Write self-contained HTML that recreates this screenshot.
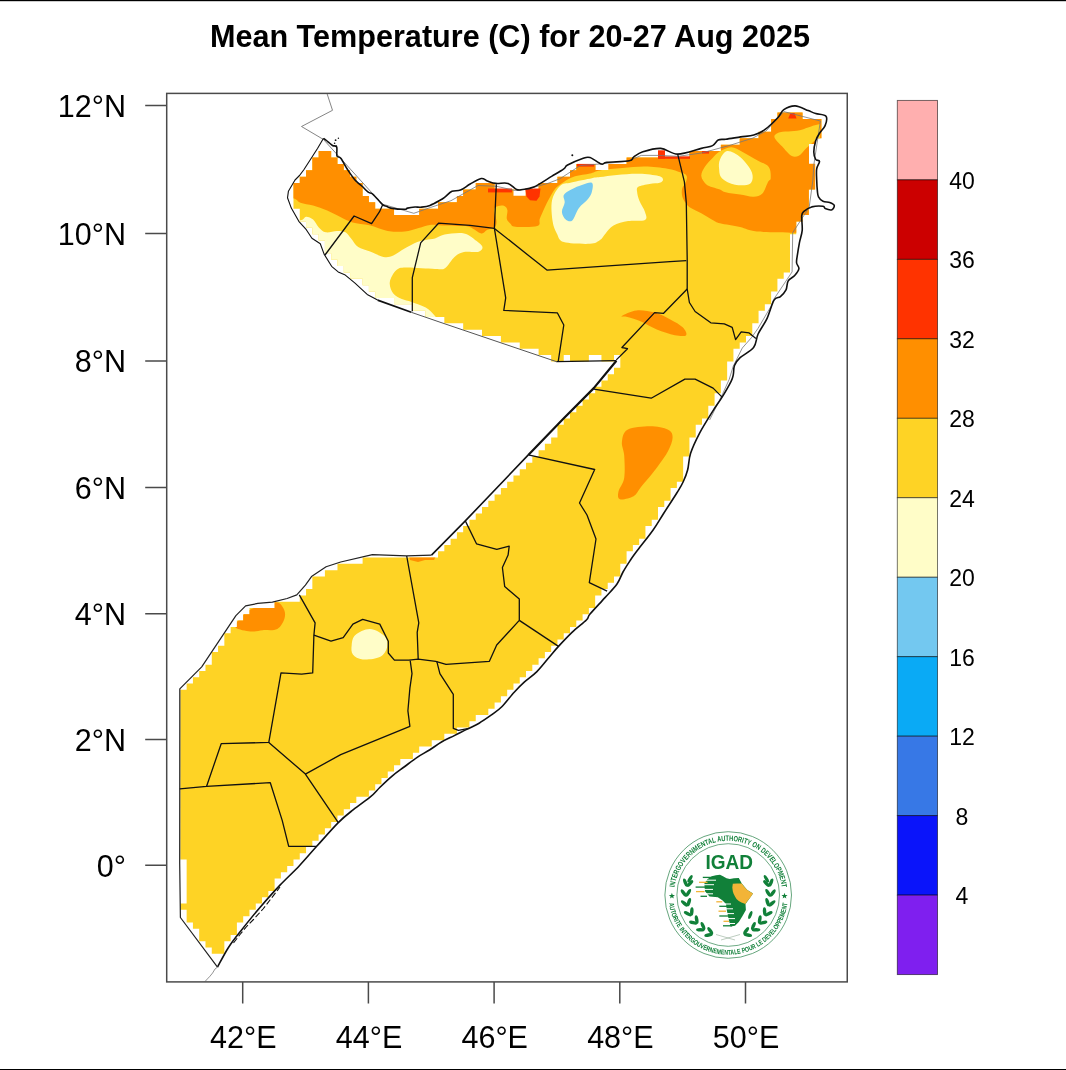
<!DOCTYPE html>
<html><head><meta charset="utf-8"><style>
html,body{margin:0;padding:0;background:#fff;}
body{width:1066px;height:1070px;position:relative;overflow:hidden;font-family:"Liberation Sans",sans-serif;}
svg{position:absolute;left:0;top:0;will-change:transform;}
</style></head><body>
<svg width="1066" height="1070" viewBox="0 0 1066 1070">
<defs><clipPath id="m"><path d="M211.77 947.59H224.35V953.87H211.77ZM205.49 941.30H224.35V947.59H205.49ZM199.20 935.01H230.63V941.30H199.20ZM199.20 928.73H236.91V935.01H199.20ZM192.92 922.44H236.91V928.73H192.92ZM186.64 916.16H243.20V922.44H186.64ZM186.64 909.87H249.49V916.16H186.64ZM180.35 903.59H255.77V909.87H180.35ZM186.64 897.30H262.05V903.59H186.64ZM186.64 891.02H268.34V897.30H186.64ZM186.64 884.73H274.62V891.02H186.64ZM186.64 878.45H274.62V884.73H186.64ZM186.64 872.16H280.91V878.45H186.64ZM186.64 865.88H287.20V872.16H186.64ZM186.64 859.60H293.48V865.88H186.64ZM180.35 853.31H299.76V859.60H180.35ZM180.35 847.03H306.05V853.31H180.35ZM180.35 840.74H312.34V847.03H180.35ZM180.35 834.46H318.62V840.74H180.35ZM180.35 828.17H324.90V834.46H180.35ZM180.35 821.89H331.19V828.17H180.35ZM180.35 815.60H337.48V821.89H180.35ZM180.35 809.32H343.76V815.60H180.35ZM180.35 803.03H350.05V809.32H180.35ZM180.35 796.75H356.33V803.03H180.35ZM180.35 790.46H368.90V796.75H180.35ZM180.35 784.17H375.19V790.46H180.35ZM180.35 777.89H381.47V784.17H180.35ZM180.35 771.60H387.75V777.89H180.35ZM180.35 765.31H394.04V771.60H180.35ZM180.35 759.03H400.32V765.31H180.35ZM180.35 752.74H412.90V759.03H180.35ZM180.35 746.45H419.18V752.74H180.35ZM180.35 740.16H431.75V746.45H180.35ZM180.35 733.87H444.32V740.16H180.35ZM180.35 727.59H456.89V733.87H180.35ZM180.35 721.30H469.46V727.59H180.35ZM180.35 715.01H475.75V721.30H180.35ZM180.35 708.72H488.31V715.01H180.35ZM180.35 702.42H494.60V708.72H180.35ZM180.35 696.13H500.89V702.42H180.35ZM180.35 689.84H507.17V696.13H180.35ZM186.64 683.55H513.45V689.84H186.64ZM192.92 677.26H519.74V683.55H192.92ZM199.20 670.96H526.02V677.26H199.20ZM205.49 664.67H532.31V670.96H205.49ZM211.77 658.37H538.60V664.67H211.77ZM211.77 652.08H544.88V658.37H211.77ZM218.06 645.78H551.16V652.08H218.06ZM224.35 639.49H557.45V645.78H224.35ZM224.35 633.19H563.74V639.49H224.35ZM230.63 626.89H570.02V633.19H230.63ZM236.91 620.59H576.30V626.89H236.91ZM243.20 614.29H582.59V620.59H243.20ZM249.49 607.99H588.88V614.29H249.49ZM274.62 601.69H595.16V607.99H274.62ZM299.76 595.39H595.16V601.69H299.76ZM306.05 589.09H601.45V595.39H306.05ZM312.34 582.78H607.73V589.09H312.34ZM312.34 576.48H614.01V582.78H312.34ZM324.90 570.17H620.30V576.48H324.90ZM337.48 563.87H620.30V570.17H337.48ZM362.61 557.56H626.59V563.87H362.61ZM438.04 551.25H626.59V557.56H438.04ZM444.32 544.94H632.87V551.25H444.32ZM450.60 538.63H639.15V544.94H450.60ZM456.89 532.32H645.44V538.63H456.89ZM463.17 526.01H645.44V532.32H463.17ZM469.46 519.70H651.73V526.01H469.46ZM475.75 513.38H658.01V519.70H475.75ZM482.03 507.07H658.01V513.38H482.03ZM488.31 500.75H664.30V507.07H488.31ZM494.60 494.43H670.58V500.75H494.60ZM500.89 488.11H670.58V494.43H500.89ZM507.17 481.79H676.86V488.11H507.17ZM513.45 475.47H683.15V481.79H513.45ZM519.74 469.15H683.15V475.47H519.74ZM526.02 462.83H683.15V469.15H526.02ZM532.31 456.50H683.15V462.83H532.31ZM538.60 450.18H689.44V456.50H538.60ZM544.88 443.85H689.44V450.18H544.88ZM551.16 437.52H689.44V443.85H551.16ZM557.45 431.19H695.72V437.52H557.45ZM557.45 424.86H695.72V431.19H557.45ZM563.74 418.53H702.00V424.86H563.74ZM570.02 412.19H708.29V418.53H570.02ZM576.30 405.86H708.29V412.19H576.30ZM582.59 399.52H714.58V405.86H582.59ZM588.88 393.18H714.58V399.52H588.88ZM595.16 386.84H720.86V393.18H595.16ZM601.45 380.50H720.86V386.84H601.45ZM607.73 374.16H727.15V380.50H607.73ZM614.01 367.82H727.15V374.16H614.01ZM620.30 361.47H727.15V367.82H620.30ZM551.16 355.12H563.74V361.47H551.16ZM570.02 355.12H588.88V361.47H570.02ZM601.45 355.12H614.01V361.47H601.45ZM620.30 355.12H733.43V361.47H620.30ZM538.60 348.78H733.43V355.12H538.60ZM519.74 342.43H739.71V348.78H519.74ZM500.89 336.07H746.00V342.43H500.89ZM482.03 329.72H752.29V336.07H482.03ZM463.17 323.37H752.29V329.72H463.17ZM444.32 317.01H758.57V323.37H444.32ZM425.46 310.65H758.57V317.01H425.46ZM412.90 304.29H764.85V310.65H412.90ZM394.04 297.93H771.14V304.29H394.04ZM375.19 291.56H771.14V297.93H375.19ZM368.90 285.20H777.42V291.56H368.90ZM362.61 278.83H777.42V285.20H362.61ZM350.05 272.46H783.71V278.83H350.05ZM343.76 266.09H790.00V272.46H343.76ZM337.48 259.72H790.00V266.09H337.48ZM331.19 253.34H790.00V259.72H331.19ZM324.90 246.97H790.00V253.34H324.90ZM324.90 240.59H790.00V246.97H324.90ZM318.62 234.21H790.00V240.59H318.62ZM312.34 227.82H796.28V234.21H312.34ZM306.05 221.44H796.28V227.82H306.05ZM299.76 215.05H802.56V221.44H299.76ZM299.76 208.66H394.04V215.05H299.76ZM419.18 208.66H808.85V215.05H419.18ZM293.48 202.27H375.19V208.66H293.48ZM438.04 202.27H808.85V208.66H438.04ZM293.48 195.88H368.90V202.27H293.48ZM456.89 195.88H808.85V202.27H456.89ZM293.48 189.49H362.61V195.88H293.48ZM463.17 189.49H808.85V195.88H463.17ZM293.48 183.09H362.61V189.49H293.48ZM475.75 183.09H494.60V189.49H475.75ZM538.60 183.09H815.13V189.49H538.60ZM299.76 176.69H356.33V183.09H299.76ZM557.45 176.69H815.13V183.09H557.45ZM306.05 170.29H350.05V176.69H306.05ZM570.02 170.29H815.13V176.69H570.02ZM312.34 163.89H343.76V170.29H312.34ZM576.30 163.89H815.13V170.29H576.30ZM312.34 157.48H337.48V163.89H312.34ZM626.59 157.48H815.13V163.89H626.59ZM318.62 151.07H331.19V157.48H318.62ZM689.44 151.07H815.13V157.48H689.44ZM720.86 144.66H815.13V151.07H720.86ZM739.71 138.25H815.13V144.66H739.71ZM758.57 131.84H821.42V138.25H758.57ZM771.14 125.42H821.42V131.84H771.14ZM771.14 119.00H821.42V125.42H771.14ZM777.42 112.58H802.56V119.00H777.42Z"/></clipPath></defs>
<g clip-path="url(#m)">
<rect x="160" y="90" width="700" height="900" fill="#FED325"/>
<path d="M280.0 196.0C282.4 196.4 290.7 197.4 294.1 198.5C297.5 199.6 297.3 201.5 300.5 202.7C303.7 203.9 308.7 204.3 313.1 205.6C317.6 206.9 322.5 208.5 327.2 210.5C331.9 212.5 337.1 215.5 341.3 217.5C345.5 219.5 347.8 221.1 352.5 222.4C357.2 223.7 363.5 223.9 369.4 225.3C375.3 226.7 381.8 229.9 387.7 230.9C393.6 231.9 399.4 232.1 404.6 231.6C409.8 231.1 414.5 229.2 418.7 228.1C422.9 227.0 426.1 225.3 430.0 224.9C433.9 224.5 437.1 225.3 442.2 225.5C447.3 225.7 455.8 225.8 460.5 226.1C465.2 226.4 466.8 226.1 470.2 227.3C473.6 228.5 478.3 233.0 481.2 233.4C484.1 233.8 485.1 230.8 487.3 229.8C489.5 228.8 493.1 228.7 494.6 227.3C496.1 225.9 496.6 224.1 496.5 221.2C496.4 218.2 493.7 212.1 494.0 209.6C494.3 207.1 496.6 206.6 498.3 206.0C500.0 205.4 502.9 205.3 504.4 206.0C505.9 206.7 507.0 208.1 507.4 210.2C507.8 212.3 506.3 216.6 506.8 218.8C507.3 221.1 509.1 222.4 510.5 223.7C511.9 225.0 510.9 226.3 515.4 226.7C519.9 227.1 533.2 227.4 537.3 226.1C541.4 224.8 538.6 221.9 539.8 218.8C541.0 215.8 543.0 211.3 544.6 207.8C546.2 204.3 547.7 201.2 549.5 198.0C551.3 194.8 553.2 191.0 555.6 188.3C558.0 185.6 560.6 183.9 563.8 181.9C567.0 179.9 570.6 177.7 575.0 176.3C579.4 174.9 585.8 174.5 590.0 173.5C594.2 172.5 594.6 171.3 600.0 170.4C605.4 169.5 615.0 168.8 622.5 168.1C630.0 167.4 637.5 166.4 645.0 166.5C652.5 166.6 661.5 167.7 667.5 168.7C673.5 169.7 677.8 171.4 681.0 172.6C684.2 173.8 685.9 174.3 686.7 176.0C687.5 177.7 686.4 180.7 685.6 182.8C684.9 184.9 682.8 186.2 682.2 188.4C681.6 190.7 681.6 193.9 682.2 196.3C682.8 198.7 684.3 201.1 685.6 203.0C686.9 204.9 687.4 205.8 690.0 207.5C692.6 209.2 697.5 211.1 701.3 213.2C705.1 215.3 709.5 218.3 712.6 220.0C715.7 221.7 715.4 222.1 720.0 223.3C724.6 224.5 733.9 225.7 740.0 227.1C746.1 228.5 748.0 230.7 756.8 231.6C765.6 232.5 786.7 232.5 792.7 232.7L845.0 233.0L845.0 95.0L280.0 95.0Z" fill="#FF8F00"/>
<path d="M720.0 151.3C723.1 149.5 727.5 147.1 731.3 147.2C735.1 147.3 738.2 149.7 742.6 151.9C747.0 154.1 753.2 157.9 757.6 160.4C762.0 162.9 766.6 163.9 768.8 166.9C771.0 169.9 770.8 175.7 770.7 178.2C770.6 180.7 769.4 179.4 768.0 182.0C766.6 184.6 764.8 191.0 762.4 193.5C760.0 196.0 757.2 196.6 753.5 196.8C749.8 197.0 744.6 195.3 740.0 194.6C735.4 193.8 729.0 193.2 725.7 192.3C722.4 191.5 722.2 190.3 720.0 189.5C717.8 188.7 715.0 188.2 712.6 187.3C710.2 186.4 707.7 185.8 705.8 183.9C703.9 182.0 701.5 178.8 701.3 176.0C701.1 173.2 702.8 170.0 704.7 167.0C706.6 164.0 710.1 160.6 712.6 158.0C715.1 155.4 716.9 153.1 720.0 151.3Z" fill="#FED325"/>
<path d="M720.0 159.4C721.4 156.4 724.0 151.3 727.5 151.0C731.0 150.7 736.6 153.9 740.7 157.5C744.8 161.1 750.4 168.1 751.9 172.5C753.4 176.9 752.8 181.8 750.0 183.8C747.2 185.8 739.7 185.6 735.0 184.7C730.3 183.8 724.5 180.8 721.9 178.2C719.2 175.5 719.4 171.9 719.1 168.8C718.8 165.7 718.6 162.4 720.0 159.4Z" fill="#FFFDC8"/>
<path d="M814.8 140.7C813.4 141.9 809.0 145.7 806.3 148.2C803.6 150.7 801.3 154.4 798.8 155.7C796.3 156.9 794.1 157.3 791.3 155.7C788.5 154.1 784.8 149.4 782.0 146.3C779.2 143.2 774.7 139.2 774.4 136.9C774.1 134.6 777.2 133.1 780.0 132.2C782.8 131.3 787.5 131.8 791.3 131.3C795.1 130.8 798.9 130.4 802.6 129.4C806.4 128.4 811.9 126.2 813.8 125.6L820.0 124.0L820.0 142.0Z" fill="#FED325"/>
<path d="M280.0 221.0C283.4 220.9 296.1 221.0 300.5 220.3C304.9 219.6 304.0 216.9 306.1 216.8C308.2 216.7 311.0 217.8 313.1 219.6C315.2 221.4 316.7 225.3 318.8 227.4C320.9 229.5 322.8 231.7 325.8 232.3C328.9 232.9 333.8 230.9 337.1 230.9C340.4 230.9 343.2 231.0 345.5 232.3C347.8 233.6 349.0 236.1 351.1 238.6C353.2 241.1 355.1 245.0 358.2 247.1C361.2 249.2 365.2 249.7 369.4 251.3C373.6 252.9 379.5 256.2 383.5 256.9C387.5 257.6 389.8 256.9 393.3 255.5C396.8 254.1 400.6 250.7 404.6 248.5C408.6 246.3 413.8 243.5 417.3 242.1C420.8 240.7 422.8 240.6 425.7 240.0C428.6 239.4 431.9 239.5 435.0 238.6C438.1 237.7 439.8 235.5 444.6 234.6C449.5 233.7 458.8 232.4 464.1 233.4C469.4 234.4 473.2 238.5 476.3 240.7C479.4 242.9 482.0 245.0 482.4 246.8C482.8 248.6 481.9 250.8 478.8 251.7C475.7 252.6 467.9 251.1 463.9 252.0C459.8 252.9 457.6 254.3 454.5 257.0C451.4 259.7 448.2 266.2 445.0 268.2C441.8 270.2 441.5 269.0 435.0 268.9C428.5 268.8 412.5 267.3 406.0 267.5C399.5 267.7 398.9 267.9 396.2 270.3C393.5 272.8 390.3 278.3 389.8 282.2C389.3 286.1 391.3 290.7 393.3 293.5C395.3 296.3 398.8 297.7 401.8 299.1C404.9 300.5 407.6 300.6 411.6 302.0C415.6 303.4 421.8 305.3 425.7 307.6C429.6 309.9 431.9 312.6 435.0 316.0C438.1 319.4 442.5 326.0 444.0 328.0L400.0 322.0L370.0 308.0L330.0 285.0L290.0 245.0L278.0 225.0Z" fill="#FFFDC8"/>
<path d="M560.0 185.9C563.2 182.9 566.0 183.8 571.3 182.5C576.6 181.2 587.2 179.1 592.0 178.2C596.8 177.3 595.9 177.6 600.0 177.1C604.1 176.6 610.3 175.4 616.9 174.9C623.5 174.4 632.5 173.6 639.4 173.8C646.3 174.0 654.6 175.1 658.5 176.0C662.4 176.9 662.8 178.3 663.0 179.4C663.2 180.5 662.0 182.1 659.7 182.8C657.5 183.6 653.1 183.2 649.5 183.9C645.9 184.6 640.4 185.4 638.3 186.7C636.2 188.0 636.9 189.5 637.1 191.8C637.3 194.2 638.1 197.4 639.4 200.8C640.7 204.2 644.1 208.8 645.0 212.0C645.9 215.2 647.8 218.4 645.0 219.9C642.2 221.4 633.4 220.2 628.1 221.1C622.9 222.0 617.2 223.5 613.5 225.6C609.8 227.7 607.9 231.0 605.6 233.4C603.4 235.8 602.6 238.3 600.0 240.0C597.4 241.7 596.0 243.5 590.0 243.8C584.0 244.1 569.3 243.7 563.8 242.0C558.3 240.3 558.7 236.9 556.8 233.4C554.9 229.9 553.4 226.7 552.6 221.2C551.8 215.7 550.8 206.4 552.0 200.5C553.2 194.6 556.8 188.9 560.0 185.9Z" fill="#FFFDC8"/>
<path d="M563.8 195.0C564.9 192.8 568.2 191.1 571.3 189.4C574.4 187.7 579.1 185.8 582.6 184.7C586.1 183.6 590.4 181.8 592.0 182.9C593.6 184.0 592.6 188.7 592.0 191.3C591.4 194.0 590.4 196.0 588.2 198.8C586.0 201.6 581.4 204.6 578.8 208.2C576.1 211.8 574.5 218.5 572.3 220.4C570.1 222.3 567.4 220.8 565.7 219.4C564.0 218.0 562.1 214.7 561.9 211.9C561.7 209.1 564.4 205.4 564.7 202.6C565.0 199.8 562.7 197.2 563.8 195.0Z" fill="#73C8F0"/>
<path d="M621.9 316.0C623.4 314.9 631.0 311.0 636.5 310.4C642.0 309.8 649.0 311.1 654.6 312.6C660.2 314.1 665.6 316.9 670.3 319.4C675.0 321.8 680.1 324.7 682.7 327.3C685.3 329.9 687.4 333.9 686.1 335.2C684.8 336.5 679.7 336.1 674.8 335.2C669.9 334.2 662.4 331.8 656.8 329.5C651.2 327.2 645.9 323.7 641.0 321.6C636.1 319.5 630.7 318.0 627.5 317.1C624.3 316.2 620.4 317.1 621.9 316.0Z" fill="#FF8F00"/>
<path d="M627.5 429.7C632.2 427.1 643.2 426.3 650.0 426.3C656.8 426.3 664.3 427.8 668.1 429.7C671.9 431.6 672.6 434.0 672.6 437.6C672.6 441.2 670.4 446.6 668.1 451.1C665.9 455.6 661.7 460.9 659.1 464.6C656.5 468.4 655.3 469.9 652.3 473.6C649.3 477.4 644.1 483.3 641.0 487.1C637.9 490.9 637.1 494.3 633.6 496.3C630.1 498.3 622.5 500.1 620.0 499.3C617.5 498.5 617.8 495.1 618.5 491.6C619.2 488.1 623.2 484.1 624.2 478.1C625.2 472.1 624.6 461.6 624.2 455.6C623.8 449.6 621.4 446.4 621.9 442.1C622.4 437.8 622.8 432.3 627.5 429.7Z" fill="#FF8F00"/>
<path d="M238.3 620.5C240.7 617.5 244.4 612.5 250.5 609.5C256.6 606.5 269.4 602.4 274.9 602.2C280.4 602.0 281.8 605.7 283.4 608.3C285.0 610.9 285.6 614.5 284.6 618.0C283.6 621.5 281.0 627.0 277.3 629.0C273.6 631.0 267.2 629.8 262.7 630.2C258.2 630.6 255.0 631.9 250.5 631.5C246.0 631.1 237.9 629.6 235.9 627.8C233.9 626.0 235.9 623.5 238.3 620.5Z" fill="#FF8F00"/>
<path d="M409.0 556.0 L436.0 556.0 L434.0 560.0 L425.0 560.0 L418.0 562.0 L410.0 560.0Z" fill="#FF8F00"/>
<path d="M355.4 635.1C358.4 632.5 365.1 628.8 370.0 629.0C374.9 629.2 381.8 633.2 384.6 636.3C387.5 639.3 387.9 643.8 387.1 647.3C386.3 650.8 383.9 655.1 379.8 657.1C375.7 659.1 367.2 659.9 362.7 659.5C358.2 659.1 354.7 657.0 352.9 654.6C351.1 652.2 351.3 648.1 351.7 644.9C352.1 641.6 352.3 637.8 355.4 635.1Z" fill="#FFFDC8"/>
</g>
<path d="M513.5 189.6H525.6V195.8H513.5Z M595.6 163.8H608.3V169.9H595.6Z M809 144H816V163.8H809Z" fill="#fff"/>
<path d="M488.0 188.5 L512.0 188.5 L512.0 192.4 L488.0 192.4Z" fill="#FF3300"/>
<path d="M525.3 188.5 L540.5 188.5 L539.5 196.5 L536.5 200.7 L530.0 200.3 L526.5 196.5Z" fill="#FF3300"/>
<path d="M577.0 163.9 L594.0 163.9 L594.0 166.6 L577.0 166.6Z" fill="#FF3300"/>
<path d="M658.0 150.3 L665.0 150.3 L665.0 158.8 L658.0 158.8Z" fill="#FF3300"/>
<path d="M658.0 156.3 L690.0 156.3 L690.0 158.8 L658.0 158.8Z" fill="#FF3300"/>
<path d="M702.0 151.0 L709.0 151.0 L709.0 153.6 L702.0 153.6Z" fill="#FF3300"/>
<path d="M788.2 118.4 L790.5 113.1 L794.5 113.1 L796.6 118.4Z" fill="#FF3300"/>
<path d="M327.0 93.5 L332.5 110.3 L301.5 126.5 L323.5 139.5 L382.0 204.0" fill="none" stroke="#666" stroke-width="0.8"/>
<path d="M382.0 204.0 L413.8 213.3 L430.7 207.4 L451.0 200.7 L478.0 185.5 L496.6 186.3 L515.1 190.5 L528.6 188.9 L548.9 183.0 L560.0 178.7 L580.4 165.5 L600.7 163.9 L627.7 161.3 L641.2 155.4 L658.1 155.4 L678.4 156.3 L702.0 152.9 L730.0 145.3 L753.0 138.0 L766.0 131.0 L778.0 118.0 L783.8 111.6 L820.4 121.0 L813.8 165.0 L812.9 180.0 L809.2 207.3 L792.7 232.7 L792.1 271.9 L773.6 299.5 L771.1 306.2 L758.0 328.4 L751.5 337.6 L742.3 348.0 L733.2 366.3 L729.2 379.4 L722.7 393.8 L709.6 420.0" fill="none" stroke="#777" stroke-width="0.8"/>
<path d="M323.5 138.3C324.2 138.9 326.5 140.6 328.0 141.8C329.5 143.0 331.1 144.6 332.5 145.5C333.9 146.4 335.9 145.2 336.7 147.0C337.4 148.8 336.3 154.1 337.0 156.0C337.7 157.9 339.1 156.1 340.8 158.3C342.6 160.6 345.1 165.9 347.5 169.5C349.9 173.1 352.6 177.2 355.0 180.0C357.4 182.8 359.6 184.0 361.8 186.0C364.0 188.0 366.3 190.8 368.2 192.2C370.1 193.6 370.6 192.3 373.0 194.3C375.4 196.3 380.0 202.4 382.3 204.4C384.6 206.4 385.2 205.7 386.6 206.3C388.0 206.9 387.7 207.6 390.7 208.1C393.7 208.6 401.8 209.3 404.6 209.3C407.4 209.3 405.9 208.5 407.6 208.1C409.3 207.7 412.8 207.2 415.0 207.0C417.2 206.8 418.2 207.5 420.7 207.2C423.2 206.9 426.8 206.6 430.0 205.4C433.2 204.2 437.5 201.7 440.0 200.3C442.5 198.9 443.1 198.4 445.1 196.9C447.1 195.4 449.4 192.4 452.0 191.3C454.6 190.2 457.5 191.3 460.5 190.1C463.5 188.9 466.8 185.9 470.2 184.0C473.6 182.1 478.3 179.0 481.2 178.5C484.1 178.0 484.9 180.2 487.3 181.0C489.8 181.8 492.4 183.0 495.9 183.4C499.3 183.8 504.6 182.4 508.0 183.4C511.4 184.4 514.1 188.5 516.6 189.5C519.1 190.5 519.9 189.9 522.7 189.5C525.6 189.1 528.8 189.3 533.7 187.1C538.6 184.9 547.0 179.1 552.0 176.1C557.0 173.1 561.2 170.7 563.8 168.8C566.4 167.0 564.5 166.7 567.6 165.0C570.7 163.3 578.9 159.8 582.6 158.5C586.3 157.2 586.9 156.6 590.0 157.5C593.1 158.4 598.5 163.3 601.3 164.1C604.1 164.9 602.3 162.8 607.0 162.2C611.7 161.6 624.8 161.7 629.3 160.8C633.8 159.9 631.5 158.4 633.8 156.9C636.0 155.4 638.3 153.2 642.8 151.8C647.3 150.4 655.0 148.0 660.8 148.4C666.6 148.8 671.0 154.1 677.7 154.1C684.5 154.1 695.5 149.8 701.3 148.4C707.1 147.0 709.8 147.0 712.6 145.6C715.4 144.2 716.0 141.1 718.2 140.0C720.4 138.9 722.0 139.7 725.7 139.2C729.5 138.7 736.0 137.6 740.7 136.9C745.4 136.2 749.7 136.2 753.8 135.0C757.9 133.8 761.0 132.4 765.1 129.4C769.2 126.4 775.1 120.5 778.2 117.2C781.3 113.9 781.0 111.6 783.8 109.7C786.6 107.8 791.0 105.8 795.1 105.9C799.2 106.1 804.8 109.3 808.2 110.6C811.6 111.9 812.7 112.5 815.7 113.5C818.7 114.5 824.4 114.3 826.0 116.3C827.6 118.3 826.2 122.8 825.1 125.6C824.0 128.4 821.1 130.7 819.5 133.2C817.9 135.7 816.7 137.6 815.7 140.7C814.8 143.8 813.8 148.8 813.8 151.9C813.8 155.0 814.8 157.8 815.7 159.4C816.7 161.0 819.3 159.7 819.5 161.3C819.7 162.9 817.2 165.7 816.7 168.8C816.2 171.9 816.6 176.3 816.7 180.0C816.8 183.7 817.1 188.4 817.4 191.2C817.7 194.0 817.6 195.1 818.5 196.8C819.4 198.5 821.1 200.4 823.0 201.3C824.9 202.2 827.8 201.8 829.7 202.4C831.6 203.1 833.8 204.0 834.2 205.2C834.6 206.4 833.5 209.1 832.0 209.7C830.5 210.3 826.7 209.2 825.2 208.6C823.7 208.0 825.2 206.6 823.0 206.3C820.8 206.0 814.9 206.1 811.7 206.9C808.5 207.8 805.6 209.9 803.9 211.4C802.2 212.9 802.0 212.7 801.7 215.9C801.4 219.1 802.6 225.9 802.2 230.4C801.8 234.9 800.2 238.5 799.4 242.8C798.6 247.1 797.7 252.8 797.2 256.2C796.7 259.6 796.3 260.9 796.6 263.0C796.9 265.1 799.2 266.6 798.9 268.6C798.6 270.7 796.7 273.2 794.9 275.3C793.1 277.4 789.7 278.5 788.2 280.9C786.7 283.3 787.3 287.3 786.0 289.9C784.7 292.5 782.4 294.9 780.4 296.6C778.4 298.3 776.1 296.7 773.9 300.3C771.7 303.9 769.7 312.7 767.1 318.3C764.5 323.9 760.4 329.1 758.1 334.0C755.9 338.9 756.6 343.6 753.6 347.5C750.6 351.4 743.3 354.7 740.1 357.7C736.9 360.7 735.6 362.7 734.5 365.5C733.4 368.3 733.9 372.0 733.3 374.6C732.7 377.2 733.0 377.6 731.1 381.3C729.2 385.1 725.1 392.2 722.1 397.1C719.1 402.0 716.9 404.6 713.1 410.6C709.4 416.6 703.4 426.0 699.6 433.1C695.9 440.2 692.6 447.2 690.6 453.3C688.6 459.4 688.9 465.2 687.6 470.0C686.4 474.8 684.9 478.2 683.1 482.0C681.4 485.8 680.4 487.2 677.1 492.5C673.9 497.8 667.6 507.2 663.6 513.5C659.6 519.8 657.4 524.0 653.1 530.0C648.9 536.0 641.9 544.5 638.1 549.5C634.3 554.5 633.0 556.2 630.5 560.0C628.0 563.8 625.2 568.0 623.0 572.0C620.8 576.0 620.0 579.7 617.0 584.0C614.0 588.3 609.5 592.6 605.0 597.6C600.5 602.6 593.1 610.4 590.0 614.1C586.9 617.8 589.4 617.0 586.4 620.0C583.4 623.0 576.6 628.0 572.0 632.4C567.4 636.8 562.3 642.3 558.5 646.4C554.7 650.5 552.8 653.0 549.2 657.2C545.6 661.4 541.0 667.5 536.9 671.6C532.8 675.7 528.3 678.5 524.5 681.9C520.7 685.3 518.0 688.1 514.2 692.2C510.4 696.3 505.6 702.9 501.8 706.7C498.0 710.5 495.3 712.1 491.5 714.9C487.7 717.6 483.2 720.8 479.1 723.2C475.0 725.6 470.8 727.3 466.7 729.4C462.6 731.5 458.4 733.5 454.3 735.6C450.2 737.7 446.0 739.4 441.9 741.8C437.8 744.2 433.6 747.4 429.5 750.0C425.4 752.6 421.3 754.5 417.2 757.3C413.1 760.0 408.9 763.4 404.8 766.5C400.7 769.6 396.5 772.3 392.4 775.8C388.3 779.2 383.6 783.7 380.0 787.2C376.4 790.7 375.0 793.0 370.6 796.7C366.2 800.4 358.8 805.3 353.4 809.6C348.0 813.9 344.4 816.5 338.3 822.6C332.2 828.7 323.2 839.1 316.7 846.3C310.2 853.5 305.5 859.2 299.4 865.7C293.3 872.2 286.5 878.3 280.0 885.1C273.5 891.9 267.1 899.2 260.6 906.7C254.1 914.2 246.6 923.6 241.2 930.4C235.8 937.2 232.2 941.6 228.3 947.7C224.4 953.8 219.3 963.9 217.5 967.1" fill="none" stroke="#111" stroke-width="1.6" stroke-linejoin="round"/>
<path d="M217.5 967.1 L180.4 917.5 L179.7 863.6 L179.8 727.8 L179.8 688.8 L201.7 666.8 L235.9 615.6 L245.6 605.9 L257.8 603.4 L272.4 602.2 L287.1 598.5 L296.8 594.9 L305.4 585.1 L311.5 576.6 L326.1 566.8 L340.7 562.0 L372.4 554.6 L406.6 555.9 L431.5 555.1" fill="none" stroke="#222" stroke-width="1.2" stroke-linejoin="round"/>
<path d="M431.5 555.1 L465.3 520.9 L528.3 454.9" fill="none" stroke="#111" stroke-width="1.6" stroke-linejoin="round"/>
<path d="M528.3 454.9 L562.1 420.0 L593.8 388.1 L616.4 360.7" fill="none" stroke="#111" stroke-width="2.2" stroke-linejoin="round"/>
<path d="M616.4 360.7 L556.3 361.6" fill="none" stroke="#111" stroke-width="1.3" stroke-linejoin="round"/>
<path d="M556.3 361.6 L440.0 322.2 L411.3 312.3" fill="none" stroke="#555" stroke-width="1.0" stroke-linejoin="round"/>
<path d="M411.3 312.3 L377.6 300.1" fill="none" stroke="#111" stroke-width="1.7" stroke-linejoin="round"/>
<path d="M377.6 300.1 L367.2 294.4 L355.0 283.2 L344.7 274.7 L338.2 271.9 L331.6 266.3 L324.1 254.1 L320.3 243.8 L311.9 238.2 L306.3 229.7 L298.8 221.3 L291.3 208.1 L287.5 197.8 L288.4 191.3 L295.0 180.0 L299.5 175.5 L304.0 169.5 L317.5 148.5 L323.5 138.3" fill="none" stroke="#111" stroke-width="1.1" stroke-linejoin="round"/>
<path d="M382.8 204.4 L379.4 211.9 L371.6 223.7 L354.1 216.0 L325.0 255.0" fill="none" stroke="#111" stroke-width="1.3" stroke-linejoin="round"/>
<path d="M412.3 311.3 L412.3 277.6 L420.7 242.9 L438.5 223.2 L470.0 225.4 L494.4 228.4" fill="none" stroke="#111" stroke-width="1.3" stroke-linejoin="round"/>
<path d="M496.3 184.2 L494.4 228.4 L505.7 297.8 L503.8 310.4 L557.3 312.8 L563.8 325.0 L558.2 361.6" fill="none" stroke="#111" stroke-width="1.3" stroke-linejoin="round"/>
<path d="M494.4 228.4 L546.9 270.1 L670.0 261.6 L686.3 260.7" fill="none" stroke="#111" stroke-width="1.3" stroke-linejoin="round"/>
<path d="M677.8 154.7 L684.4 181.9 L686.3 202.6 L687.2 258.9 L687.2 289.0 L689.4 302.5 L695.1 311.5 L710.8 322.8 L724.3 323.9 L732.2 327.3 L735.6 339.7 L741.2 331.8 L749.1 332.9 L755.9 338.5" fill="none" stroke="#111" stroke-width="1.3" stroke-linejoin="round"/>
<path d="M687.2 289.0 L663.6 313.3 L654.6 312.6 L621.9 347.5 L627.5 348.7 L616.3 359.9" fill="none" stroke="#111" stroke-width="1.3" stroke-linejoin="round"/>
<path d="M593.8 389.2 L651.2 398.2 L684.9 379.1 L695.1 379.1 L713.1 388.1 L722.1 397.1" fill="none" stroke="#111" stroke-width="1.3" stroke-linejoin="round"/>
<path d="M528.3 454.9 L594.7 469.5 L579.5 503.0 L587.0 515.0 L596.0 539.0 L589.3 582.6 L607.1 591.1" fill="none" stroke="#111" stroke-width="1.3" stroke-linejoin="round"/>
<path d="M465.3 520.9 L476.5 543.8 L496.8 549.4 L509.2 546.1 L508.1 555.1 L502.4 567.5 L504.7 586.6 L519.3 599.0 L519.3 620.4 L496.7 645.0 L489.4 661.3 L446.0 664.4 L435.7 661.3 L418.2 659.2 L408.9 660.2 L394.4 660.2 L388.3 653.0 L388.3 641.2 L379.8 624.1 L362.7 619.3 L352.9 624.1 L343.2 637.6 L331.0 641.2 L313.9 635.1" fill="none" stroke="#111" stroke-width="1.3" stroke-linejoin="round"/>
<path d="M519.3 620.4 L558.5 646.4" fill="none" stroke="#111" stroke-width="1.3" stroke-linejoin="round"/>
<path d="M406.7 556.0 L418.8 622.9 L417.2 632.4 L418.2 659.2" fill="none" stroke="#111" stroke-width="1.3" stroke-linejoin="round"/>
<path d="M299.3 594.9 L315.1 622.9 L313.9 635.1 L312.7 672.9 L301.7 674.1 L281.0 672.9 L268.8 742.4 L221.2 743.7 L206.6 786.3 L179.8 788.8" fill="none" stroke="#111" stroke-width="1.3" stroke-linejoin="round"/>
<path d="M206.6 786.3 L270.3 782.7 L282.2 820.4 L288.7 846.3 L316.7 846.3" fill="none" stroke="#111" stroke-width="1.3" stroke-linejoin="round"/>
<path d="M268.8 742.4 L305.4 774.1 L338.3 822.6" fill="none" stroke="#111" stroke-width="1.3" stroke-linejoin="round"/>
<path d="M305.4 774.1 L340.7 754.6 L409.9 726.3 L407.9 710.8 L409.9 688.1 L412.0 673.7 L410.2 660.7" fill="none" stroke="#111" stroke-width="1.3" stroke-linejoin="round"/>
<path d="M436.8 661.3 L439.9 673.7 L453.3 694.3 L453.3 728.4 L458.4 730.4 L468.8 728.4" fill="none" stroke="#111" stroke-width="1.3" stroke-linejoin="round"/>
<path d="M233.5 943L240 934.5L247 926L253.5 919.5L263 909L270 900L280 887" fill="none" stroke="#111" stroke-width="1.1" stroke-dasharray="6 2.5"/>
<path d="M205 981.5C208 978 212 975 215 969L217.5 967.1" fill="none" stroke="#777" stroke-width="0.8"/>
<circle cx="335.6" cy="140.2" r="0.9" fill="#111"/>
<circle cx="334.6" cy="143.2" r="0.8" fill="#111"/>
<circle cx="336.2" cy="146.2" r="1.0" fill="#111"/>
<circle cx="572.3" cy="155.2" r="1.0" fill="#111"/>
<circle cx="338.4" cy="138.2" r="0.7" fill="#111"/>
<rect x="166.7" y="93.4" width="680.55" height="888.5" fill="none" stroke="#4a4a4a" stroke-width="1.5"/>
<path d="M145.2 865.3H166.7M145.2 739.6H166.7M145.2 613.7H166.7M145.2 487.5H166.7M145.2 360.9H166.7M145.2 233.6H166.7M145.2 105.6H166.7M242.7 981.9V1003.4M368.4 981.9V1003.4M494.1 981.9V1003.4M619.8 981.9V1003.4M745.5 981.9V1003.4" stroke="#4a4a4a" stroke-width="1.5" fill="none"/>
<g font-family="Liberation Sans" font-size="30.5" fill="#000"><text x="126" y="876.8" text-anchor="end">0°</text><text x="126" y="751.1" text-anchor="end">2°N</text><text x="126" y="625.2" text-anchor="end">4°N</text><text x="126" y="499.0" text-anchor="end">6°N</text><text x="126" y="372.4" text-anchor="end">8°N</text><text x="126" y="245.1" text-anchor="end">10°N</text><text x="126" y="117.1" text-anchor="end">12°N</text><text x="243.3" y="1048.1" text-anchor="middle">42°E</text><text x="369.0" y="1048.1" text-anchor="middle">44°E</text><text x="494.7" y="1048.1" text-anchor="middle">46°E</text><text x="620.4" y="1048.1" text-anchor="middle">48°E</text><text x="746.1" y="1048.1" text-anchor="middle">50°E</text></g>
<text x="510" y="47" text-anchor="middle" font-family="Liberation Sans" font-weight="bold" font-size="30.6" fill="#000">Mean Temperature (C) for 20-27 Aug 2025</text>
<rect x="897.3" y="100.40" width="40.25" height="79.47" fill="#FFAFAF" stroke="#000" stroke-opacity="0.6" stroke-width="0.9"/>
<rect x="897.3" y="179.87" width="40.25" height="79.47" fill="#CC0000" stroke="#000" stroke-opacity="0.6" stroke-width="0.9"/>
<rect x="897.3" y="259.35" width="40.25" height="79.47" fill="#FF3300" stroke="#000" stroke-opacity="0.6" stroke-width="0.9"/>
<rect x="897.3" y="338.82" width="40.25" height="79.47" fill="#FF8F00" stroke="#000" stroke-opacity="0.6" stroke-width="0.9"/>
<rect x="897.3" y="418.29" width="40.25" height="79.47" fill="#FED325" stroke="#000" stroke-opacity="0.6" stroke-width="0.9"/>
<rect x="897.3" y="497.76" width="40.25" height="79.47" fill="#FFFDC8" stroke="#000" stroke-opacity="0.6" stroke-width="0.9"/>
<rect x="897.3" y="577.24" width="40.25" height="79.47" fill="#73C8F0" stroke="#000" stroke-opacity="0.6" stroke-width="0.9"/>
<rect x="897.3" y="656.71" width="40.25" height="79.47" fill="#0AAAF5" stroke="#000" stroke-opacity="0.6" stroke-width="0.9"/>
<rect x="897.3" y="736.18" width="40.25" height="79.47" fill="#3778E6" stroke="#000" stroke-opacity="0.6" stroke-width="0.9"/>
<rect x="897.3" y="815.65" width="40.25" height="79.47" fill="#0A14FA" stroke="#000" stroke-opacity="0.6" stroke-width="0.9"/>
<rect x="897.3" y="895.13" width="40.25" height="79.47" fill="#7F1FEF" stroke="#000" stroke-opacity="0.6" stroke-width="0.9"/>
<g font-family="Liberation Sans" font-size="23" fill="#000"><text x="962" y="189.0" text-anchor="middle">40</text><text x="962" y="268.4" text-anchor="middle">36</text><text x="962" y="347.9" text-anchor="middle">32</text><text x="962" y="427.4" text-anchor="middle">28</text><text x="962" y="506.9" text-anchor="middle">24</text><text x="962" y="586.3" text-anchor="middle">20</text><text x="962" y="665.8" text-anchor="middle">16</text><text x="962" y="745.3" text-anchor="middle">12</text><text x="962" y="824.8" text-anchor="middle">8</text><text x="962" y="904.2" text-anchor="middle">4</text></g>
<rect x="0" y="0" width="1066" height="1.2" fill="#000"/>
<rect x="0" y="1069" width="1066" height="1" fill="#000"/>
<g>
<circle cx="728.2" cy="895.0" r="63.3" fill="#fff" stroke="#3f8f5c" stroke-width="0.8"/>
<circle cx="728.2" cy="895.0" r="51.3" fill="none" stroke="#3f8f5c" stroke-width="0.75"/>
<path id="lt" d="M674.53 887.46 A54.2 54.2 0 0 1 781.87 887.46" fill="none"/>
<path id="lb" d="M668.98 903.32 A59.8 59.8 0 0 0 787.42 903.32" fill="none"/>
<text font-family="Liberation Sans" font-weight="bold" font-size="7.6" fill="#118039"><textPath href="#lt" textLength="155.1" lengthAdjust="spacingAndGlyphs">INTERGOVERNMENTAL AUTHORITY ON DEVELOPMENT</textPath></text>
<text font-family="Liberation Sans" font-weight="bold" font-size="7.0" fill="#118039"><textPath href="#lb" textLength="171.2" lengthAdjust="spacingAndGlyphs">AUTORITE INTERGOUVERNEMENTALE POUR LE DEVELOPPEMENT</textPath></text>
<polygon points="671.90,892.80 672.69,894.91 674.94,895.01 673.18,896.42 673.78,898.59 671.90,897.34 670.02,898.59 670.62,896.42 668.86,895.01 671.11,894.91" fill="#118039"/>
<polygon points="784.50,892.80 785.29,894.91 787.54,895.01 785.78,896.42 786.38,898.59 784.50,897.34 782.62,898.59 783.22,896.42 781.46,895.01 783.71,894.91" fill="#118039"/>
<text x="729.3" y="869.3" text-anchor="middle" font-family="Liberation Sans" font-weight="bold" font-size="20.3" fill="#118039" textLength="47.5" lengthAdjust="spacingAndGlyphs">IGAD</text>
<path d="M711.8 876.3 L716.0 875.2 L720.0 874.8 L723.0 876.3 L726.5 878.2 L729.8 878.9 L734.0 878.2 L738.8 878.1 L741.8 883.4 L747.0 889.8 L753.0 893.5 L749.3 898.8 L745.5 904.0 L745.9 910.0 L742.5 916.0 L738.8 922.0 L735.0 925.8 L730.5 926.5 L728.3 917.5 L726.8 910.0 L726.0 904.0 L722.3 900.3 L717.8 897.3 L709.5 896.5 L705.0 891.3 L704.3 883.8 L707.3 879.3Z" fill="#118039"/>
<path d="M732.8 883.8 L737.0 883.6 L741.8 883.4 L744.0 886.5 L747.0 889.8 L750.0 891.8 L753.0 893.5 L751.0 896.5 L749.3 898.8 L747.0 901.5 L745.5 904.0 L741.5 902.5 L738.8 901.0 L736.5 899.0 L735.0 896.5 L733.5 893.5 L732.8 891.3 L732.3 887.5Z" fill="#f2b437"/>
<ellipse cx="750.3" cy="915" rx="1.6" ry="4.3" transform="rotate(20 750.3 915)" fill="#118039"/>
<line x1="702.8" y1="877.4" x2="716" y2="877.4" stroke="#118039" stroke-width="1.3"/>
<line x1="699" y1="882.3" x2="707.5" y2="882.3" stroke="#f2b437" stroke-width="1.3"/>
<line x1="695.6" y1="887.1" x2="712" y2="887.1" stroke="#118039" stroke-width="1.3"/>
<line x1="696" y1="891.6" x2="704.5" y2="891.6" stroke="#f2b437" stroke-width="1.3"/>
<line x1="700.5" y1="896.3" x2="707" y2="896.3" stroke="#118039" stroke-width="1.3"/>
<line x1="716.3" y1="901.8" x2="722.3" y2="901.8" stroke="#f2b437" stroke-width="1.3"/>
<line x1="719.3" y1="906.3" x2="731" y2="906.3" stroke="#118039" stroke-width="1.3"/>
<line x1="718.5" y1="911.2" x2="726" y2="911.2" stroke="#f2b437" stroke-width="1.3"/>
<line x1="719.3" y1="916" x2="733" y2="916" stroke="#118039" stroke-width="1.3"/>
<line x1="723.5" y1="921.3" x2="729" y2="921.3" stroke="#f2b437" stroke-width="1.3"/>
<line x1="723" y1="925.8" x2="732" y2="925.8" stroke="#118039" stroke-width="1.3"/>
<line x1="706" y1="880.2" x2="716" y2="880.2" stroke="#fff" stroke-width="1.0"/>
<line x1="704" y1="884.7" x2="714" y2="884.7" stroke="#fff" stroke-width="1.0"/>
<line x1="704" y1="889.4" x2="713" y2="889.4" stroke="#fff" stroke-width="1.0"/>
<line x1="706" y1="893.8" x2="713" y2="893.8" stroke="#fff" stroke-width="1.0"/>
<line x1="721" y1="904" x2="731" y2="904" stroke="#fff" stroke-width="1.0"/>
<line x1="721" y1="908.8" x2="733" y2="908.8" stroke="#fff" stroke-width="1.0"/>
<line x1="722" y1="913.6" x2="734" y2="913.6" stroke="#fff" stroke-width="1.0"/>
<line x1="724" y1="918.6" x2="735" y2="918.6" stroke="#fff" stroke-width="1.0"/>
<line x1="726" y1="923.5" x2="735" y2="923.5" stroke="#fff" stroke-width="1.0"/>
<ellipse cx="685.37" cy="882.61" rx="4.30" ry="1.75" transform="rotate(248.5 685.37 882.61)" fill="#118039"/><ellipse cx="689.96" cy="883.54" rx="4.30" ry="1.75" transform="rotate(314.5 689.96 883.54)" fill="#118039"/><ellipse cx="683.66" cy="892.95" rx="4.30" ry="1.75" transform="rotate(235.0 683.66 892.95)" fill="#118039"/><ellipse cx="688.34" cy="892.78" rx="4.30" ry="1.75" transform="rotate(301.0 688.34 892.78)" fill="#118039"/><ellipse cx="684.41" cy="903.40" rx="4.30" ry="1.75" transform="rotate(221.5 684.41 903.40)" fill="#118039"/><ellipse cx="688.92" cy="902.15" rx="4.30" ry="1.75" transform="rotate(287.5 688.92 902.15)" fill="#118039"/><ellipse cx="687.74" cy="913.75" rx="4.30" ry="1.75" transform="rotate(207.5 687.74 913.75)" fill="#118039"/><ellipse cx="691.82" cy="911.44" rx="4.30" ry="1.75" transform="rotate(273.5 691.82 911.44)" fill="#118039"/><ellipse cx="693.24" cy="922.67" rx="4.30" ry="1.75" transform="rotate(194.0 693.24 922.67)" fill="#118039"/><ellipse cx="696.66" cy="919.48" rx="4.30" ry="1.75" transform="rotate(260.0 696.66 919.48)" fill="#118039"/><ellipse cx="700.36" cy="929.83" rx="4.30" ry="1.75" transform="rotate(181.0 700.36 929.83)" fill="#118039"/><ellipse cx="702.98" cy="925.94" rx="4.30" ry="1.75" transform="rotate(247.0 702.98 925.94)" fill="#118039"/><ellipse cx="708.56" cy="935.03" rx="4.30" ry="1.75" transform="rotate(168.5 708.56 935.03)" fill="#118039"/><ellipse cx="710.27" cy="930.67" rx="4.30" ry="1.75" transform="rotate(234.5 710.27 930.67)" fill="#118039"/><ellipse cx="690.00" cy="878.78" rx="4.2" ry="1.6" transform="rotate(-58 690.00 878.78)" fill="#118039"/>
<ellipse cx="766.44" cy="883.54" rx="4.30" ry="1.75" transform="rotate(225.5 766.44 883.54)" fill="#118039"/><ellipse cx="771.03" cy="882.61" rx="4.30" ry="1.75" transform="rotate(291.5 771.03 882.61)" fill="#118039"/><ellipse cx="768.06" cy="892.78" rx="4.30" ry="1.75" transform="rotate(239.0 768.06 892.78)" fill="#118039"/><ellipse cx="772.74" cy="892.95" rx="4.30" ry="1.75" transform="rotate(305.0 772.74 892.95)" fill="#118039"/><ellipse cx="767.48" cy="902.15" rx="4.30" ry="1.75" transform="rotate(252.5 767.48 902.15)" fill="#118039"/><ellipse cx="771.99" cy="903.40" rx="4.30" ry="1.75" transform="rotate(318.5 771.99 903.40)" fill="#118039"/><ellipse cx="764.58" cy="911.44" rx="4.30" ry="1.75" transform="rotate(266.5 764.58 911.44)" fill="#118039"/><ellipse cx="768.66" cy="913.75" rx="4.30" ry="1.75" transform="rotate(332.5 768.66 913.75)" fill="#118039"/><ellipse cx="759.74" cy="919.48" rx="4.30" ry="1.75" transform="rotate(280.0 759.74 919.48)" fill="#118039"/><ellipse cx="763.16" cy="922.67" rx="4.30" ry="1.75" transform="rotate(346.0 763.16 922.67)" fill="#118039"/><ellipse cx="753.42" cy="925.94" rx="4.30" ry="1.75" transform="rotate(293.0 753.42 925.94)" fill="#118039"/><ellipse cx="756.04" cy="929.83" rx="4.30" ry="1.75" transform="rotate(359.0 756.04 929.83)" fill="#118039"/><ellipse cx="746.13" cy="930.67" rx="4.30" ry="1.75" transform="rotate(305.5 746.13 930.67)" fill="#118039"/><ellipse cx="747.84" cy="935.03" rx="4.30" ry="1.75" transform="rotate(371.5 747.84 935.03)" fill="#118039"/><ellipse cx="766.40" cy="878.78" rx="4.2" ry="1.6" transform="rotate(-122 766.40 878.78)" fill="#118039"/>
<path d="M716 934.5 L735 940 M721 940 L740 934.5" stroke="#7a9a80" stroke-width="0.5" fill="none"/>
</g>
</svg>
</body></html>
